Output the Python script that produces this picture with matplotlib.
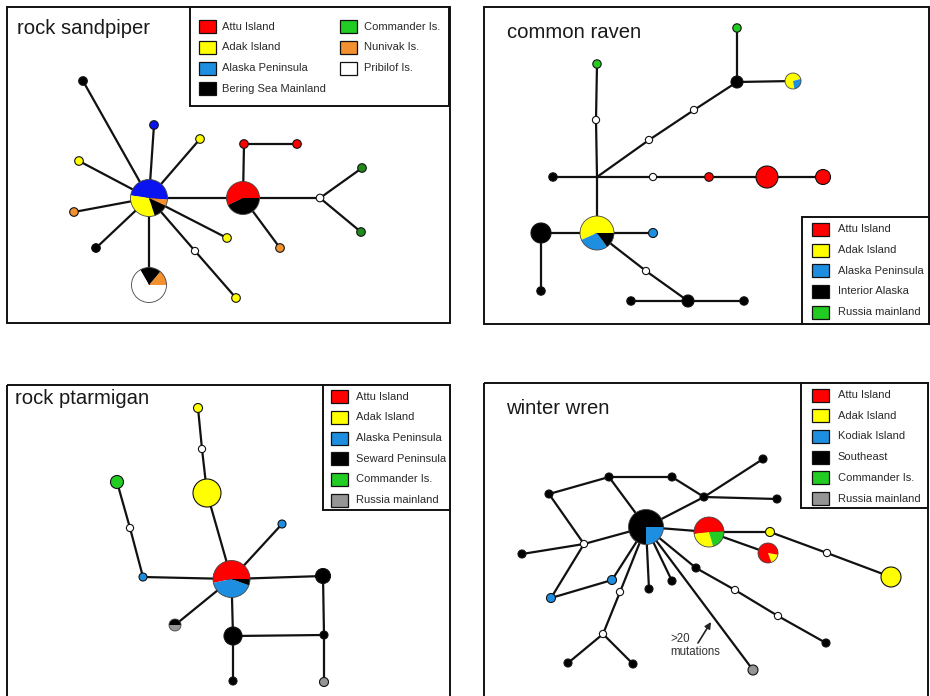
import matplotlib
matplotlib.use("Agg")
import matplotlib.pyplot as plt
from matplotlib.patches import Wedge, Circle, Rectangle

plt.rcParams['font.family'] = ['Liberation Sans', 'DejaVu Sans']

# ---------------------------------------------------------------
# Population colours
# ---------------------------------------------------------------
C = {
    'red': '#ff0000',
    'yellow': '#ffff00',
    'blue': '#0a14f0',      # pure blue used in the sandpiper network
    'cyan': '#1e8fe0',      # peninsula / Kodiak blue
    'black': '#000000',
    'green': '#22cc22',
    'dkgreen': '#1e8a1e',
    'orange': '#f39030',
    'white': '#ffffff',
    'grey': '#959595',
}

# ---------------------------------------------------------------
# Haplotype networks: nodes are (id, x, y, radius, composition)
# composition is one colour or a list of (colour, start_deg, end_deg)
# ---------------------------------------------------------------
sandpiper_nodes = [
    ('hub', 149, 198, 18.5, [('blue', -5, 172), ('yellow', 172, 288),
                             ('black', 288, 335), ('orange', 335, 355)]),
    ('attu', 243, 198, 16.5, [('red', 0, 205), ('black', 205, 360)]),
    ('prib', 149, 285, 17.5, [('orange', 0, 50), ('black', 50, 120),
                              ('white', 120, 360)]),
    ('bk1', 83, 81, 4.3, 'black'),
    ('bl1', 154, 125, 4.3, 'blue'),
    ('y1', 200, 139, 4.3, 'yellow'),
    ('y2', 79, 161, 4.3, 'yellow'),
    ('o1', 74, 212, 4.3, 'orange'),
    ('bk2', 96, 248, 4.3, 'black'),
    ('y3', 227, 238, 4.3, 'yellow'),
    ('w1', 195, 251, 3.6, 'white'),
    ('y4', 236, 298, 4.3, 'yellow'),
    ('r1', 244, 144, 4.3, 'red'),
    ('r2', 297, 144, 4.3, 'red'),
    ('o2', 280, 248, 4.3, 'orange'),
    ('w2', 320, 198, 3.8, 'white'),
    ('g1', 362, 168, 4.3, 'dkgreen'),
    ('g2', 361, 232, 4.3, 'dkgreen'),
]
sandpiper_edges = [
    ('hub', 'bk1'), ('hub', 'bl1'), ('hub', 'y1'), ('hub', 'y2'), ('hub', 'o1'),
    ('hub', 'bk2'), ('hub', 'y3'), ('hub', 'w1'), ('w1', 'y4'), ('hub', 'prib'),
    ('hub', 'attu'), ('attu', 'r1'), ('r1', 'r2'), ('attu', 'o2'), ('attu', 'w2'),
    ('w2', 'g1'), ('w2', 'g2'),
]

raven_nodes = [
    ('j', 597, 177, 0, 'black'),
    ('g1', 597, 64, 4.2, 'green'),
    ('w1', 596, 120, 3.6, 'white'),
    ('bk1', 553, 177, 4.2, 'black'),
    ('w2', 653, 177, 3.6, 'white'),
    ('r1', 709, 177, 4.3, 'red'),
    ('r2', 767, 177, 11, 'red'),
    ('r3', 823, 177, 7.5, 'red'),
    ('w3', 649, 140, 3.6, 'white'),
    ('w4', 694, 110, 3.6, 'white'),
    ('bk2', 737, 82, 6, 'black'),
    ('g2', 737, 28, 4.2, 'green'),
    ('ab', 793, 81, 8, [('yellow', 15, 280), ('cyan', 280, 375)]),
    ('hub', 597, 233, 17, [('yellow', 0, 204), ('cyan', 204, 306),
                           ('black', 306, 360)]),
    ('bk3', 541, 233, 10, 'black'),
    ('bk4', 541, 291, 4.2, 'black'),
    ('bl1', 653, 233, 4.5, 'cyan'),
    ('w5', 646, 271, 3.6, 'white'),
    ('bk5', 688, 301, 6, 'black'),
    ('bk6', 631, 301, 4.2, 'black'),
    ('bk7', 744, 301, 4.2, 'black'),
]
raven_edges = [
    ('j', 'w1'), ('w1', 'g1'), ('j', 'bk1'), ('j', 'w2'), ('w2', 'r1'),
    ('r1', 'r2'), ('r2', 'r3'), ('j', 'w3'), ('w3', 'w4'), ('w4', 'bk2'),
    ('bk2', 'g2'), ('bk2', 'ab'), ('j', 'hub'), ('hub', 'bk3'), ('bk3', 'bk4'),
    ('hub', 'bl1'), ('hub', 'w5'), ('w5', 'bk5'), ('bk5', 'bk6'), ('bk5', 'bk7'),
]

ptarmigan_nodes = [
    ('hub', 231.5, 579, 18.5, [('red', 0, 192), ('cyan', 192, 340),
                               ('black', 340, 360)]),
    ('yb', 207, 493, 14, 'yellow'),
    ('w1', 202, 449, 3.6, 'white'),
    ('ys', 198, 408, 4.5, 'yellow'),
    ('bl1', 143, 577, 4.0, 'cyan'),
    ('w2', 130, 528, 3.6, 'white'),
    ('g', 117, 482, 6.5, 'green'),
    ('bl2', 282, 524, 4.0, 'cyan'),
    ('bk1', 323, 576, 7.5, 'black'),
    ('bk2', 324, 635, 4.0, 'black'),
    ('gr', 324, 682, 4.5, 'grey'),
    ('bk3', 233, 636, 9, 'black'),
    ('bk4', 233, 681, 4.0, 'black'),
    ('gb', 175, 625, 6, [('black', 0, 180), ('grey', 180, 360)]),
]
ptarmigan_edges = [
    ('hub', 'yb'), ('yb', 'w1'), ('w1', 'ys'), ('hub', 'bl1'), ('bl1', 'w2'),
    ('w2', 'g'), ('hub', 'bl2'), ('hub', 'bk1'), ('bk1', 'bk2'), ('bk2', 'gr'),
    ('bk2', 'bk3'), ('hub', 'bk3'), ('bk3', 'bk4'), ('hub', 'gb'),
]

wren_nodes = [
    ('hub', 646, 527, 17.5, [('black', 0, 270), ('cyan', 270, 360)]),
    ('mp', 709, 532, 15, [('red', 2, 188), ('yellow', 188, 286),
                          ('green', 286, 362)]),
    ('ry', 768, 553, 10, [('yellow', 290, 350), ('red', 350, 650)]),
    ('ys', 770, 532, 4.5, 'yellow'),
    ('w1', 827, 553, 3.6, 'white'),
    ('yb', 891, 577, 10, 'yellow'),
    ('jn', 704, 497, 4.0, 'black'),
    ('bk1', 763, 459, 4.0, 'black'),
    ('bk2', 777, 499, 4.0, 'black'),
    ('bk3', 672, 477, 4.0, 'black'),
    ('bk4', 609, 477, 4.0, 'black'),
    ('bk5', 549, 494, 4.0, 'black'),
    ('w2', 584, 544, 3.6, 'white'),
    ('bk6', 522, 554, 4.0, 'black'),
    ('bl1', 612, 580, 4.5, 'cyan'),
    ('bl2', 551, 598, 4.5, 'cyan'),
    ('w3', 620, 592, 3.6, 'white'),
    ('w4', 603, 634, 3.6, 'white'),
    ('bk7', 568, 663, 4.0, 'black'),
    ('bk8', 633, 664, 4.0, 'black'),
    ('bk9', 649, 589, 4.0, 'black'),
    ('bk10', 672, 581, 4.0, 'black'),
    ('bk11', 696, 568, 4.0, 'black'),
    ('w5', 735, 590, 3.6, 'white'),
    ('w6', 778, 616, 3.6, 'white'),
    ('bk12', 826, 643, 4.0, 'black'),
    ('gr', 753, 670, 5, 'grey'),
]
wren_edges = [
    ('hub', 'mp'), ('mp', 'ys'), ('ys', 'w1'), ('w1', 'yb'), ('mp', 'ry'),
    ('hub', 'jn'), ('jn', 'bk1'), ('jn', 'bk2'), ('jn', 'bk3'), ('bk3', 'bk4'),
    ('bk4', 'bk5'), ('bk4', 'hub'), ('bk5', 'w2'), ('w2', 'hub'), ('w2', 'bk6'),
    ('w2', 'bl2'), ('bl2', 'bl1'), ('bl1', 'hub'), ('hub', 'w3'), ('w3', 'w4'),
    ('w4', 'bk7'), ('w4', 'bk8'), ('hub', 'bk9'), ('hub', 'bk10'),
    ('hub', 'bk11'), ('bk11', 'w5'), ('w5', 'w6'), ('w6', 'bk12'), ('hub', 'gr'),
]

# ---------------------------------------------------------------
# Legends
# ---------------------------------------------------------------
sandpiper_legend_col1 = ['Attu Island', 'Adak Island', 'Alaska Peninsula',
                         'Bering Sea Mainland']
sandpiper_colors_col1 = ['red', 'yellow', 'cyan', 'black']
sandpiper_legend_col2 = ['Commander Is.', 'Nunivak Is.', 'Pribilof Is.']
sandpiper_colors_col2 = ['green', 'orange', 'white']

raven_legend = ['Attu Island', 'Adak Island', 'Alaska Peninsula',
                'Interior Alaska', 'Russia mainland']
raven_colors = ['red', 'yellow', 'cyan', 'black', 'green']

ptarmigan_legend = ['Attu Island', 'Adak Island', 'Alaska Peninsula',
                    'Seward Peninsula', 'Commander Is.', 'Russia mainland']
ptarmigan_colors = ['red', 'yellow', 'cyan', 'black', 'green', 'grey']

wren_legend = ['Attu Island', 'Adak Island', 'Kodiak Island', 'Southeast',
               'Commander Is.', 'Russia mainland']
wren_colors = ['red', 'yellow', 'cyan', 'black', 'green', 'grey']

titles = ['rock sandpiper', 'common raven', 'rock ptarmigan', 'winter wren']

# ---------------------------------------------------------------
fig = plt.figure(figsize=(9.30, 6.96), dpi=100)
ax = fig.add_axes([0, 0, 1, 1])
ax.set_xlim(0, 930)
ax.set_ylim(696, 0)
ax.axis('off')

EDGE_LW = 1.6
BOX_LW = 1.4


def draw_network(nodes, edges):
    pos = {n[0]: (n[1], n[2]) for n in nodes}
    for a, b in edges:
        (x1, y1), (x2, y2) = pos[a], pos[b]
        ax.plot([x1, x2], [y1, y2], color='#111111', lw=EDGE_LW,
                zorder=2, solid_capstyle='butt')
    for nid, x, y, r, comp in nodes:
        if r == 0:
            continue
        if isinstance(comp, str):
            ax.add_patch(Circle((x, y), r, facecolor=C[comp],
                                edgecolor='#111111', lw=0.8, zorder=4))
        else:
            for col, a1, a2 in comp:
                # y axis points down, so angles are mirrored
                ax.add_patch(Wedge((x, y), r, -a2, -a1, facecolor=C[col],
                                   edgecolor='none', lw=0, zorder=4))
            ax.add_patch(Circle((x, y), r, facecolor='none',
                                edgecolor='#444444', lw=0.6, zorder=5))


def draw_box(x0, y0, x1, y1):
    ax.add_patch(Rectangle((x0, y0), x1 - x0, y1 - y0, facecolor='none',
                           edgecolor='#111111', lw=BOX_LW, zorder=6))


def draw_legend(names, colors, xp, xt, y0, dy):
    for i, (nm, col) in enumerate(zip(names, colors)):
        y = y0 + i * dy
        ax.add_patch(Rectangle((xp, y - 6.5), 17, 13, facecolor=C[col],
                               edgecolor='#111111', lw=0.9, zorder=7))
        ax.text(xt, y, nm, fontsize=8, color='#2a2a2a', va='center',
                ha='left', zorder=7)


# panel frames
draw_box(7, 7, 450, 323)
draw_box(484, 7, 929, 324)
draw_box(7, 385, 450, 720)
draw_box(484, 383, 928, 720)

# legend frames
ax.add_patch(Rectangle((190, 7), 259, 99, facecolor='white',
                       edgecolor='#111111', lw=BOX_LW, zorder=6))
ax.add_patch(Rectangle((802, 217), 127, 107, facecolor='white',
                       edgecolor='#111111', lw=BOX_LW, zorder=6))
ax.add_patch(Rectangle((323, 385), 127, 125, facecolor='white',
                       edgecolor='#111111', lw=BOX_LW, zorder=6))
ax.add_patch(Rectangle((801, 383), 127, 125, facecolor='white',
                       edgecolor='#111111', lw=BOX_LW, zorder=6))

draw_legend(sandpiper_legend_col1, sandpiper_colors_col1, 199, 222, 26.7, 20.7)
draw_legend(sandpiper_legend_col2, sandpiper_colors_col2, 340, 364, 26.7, 20.7)
draw_legend(raven_legend, raven_colors, 812, 838, 229.3, 20.7)
draw_legend(ptarmigan_legend, ptarmigan_colors, 331, 356, 396.7, 20.7)
draw_legend(wren_legend, wren_colors, 812, 837.5, 395, 20.7)

# titles
for (tx, ty), t in zip([(17, 28), (507, 33), (15, 399), (506, 409)], titles):
    ax.text(tx, ty, t, fontsize=14.6, color='#1a1a1a', va='center', ha='left',
            zorder=7)

draw_network(sandpiper_nodes, sandpiper_edges)
draw_network(raven_nodes, raven_edges)
draw_network(ptarmigan_nodes, ptarmigan_edges)
draw_network(wren_nodes, wren_edges)

# long branch note
ax.annotate('', xy=(711, 622), xytext=(698, 643),
            arrowprops=dict(arrowstyle='-|>', color='#222222', lw=1.2,
                            mutation_scale=9, shrinkA=0, shrinkB=0))
ax.text(670, 639, '>20', fontsize=8.3, color='#333333', va='center', ha='left')
ax.text(670, 652, 'mutations', fontsize=8.3, color='#333333', va='center',
        ha='left')

fig.savefig('out.png', dpi=100)
